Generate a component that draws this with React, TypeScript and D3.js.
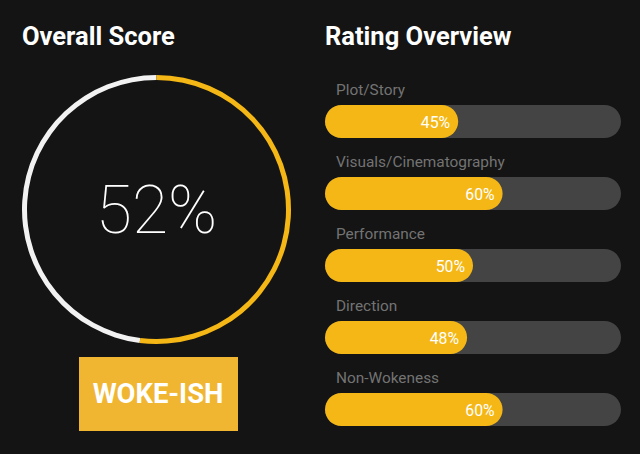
import React from "react";
import * as d3 from "d3";

const categories = ["Plot/Story", "Visuals/Cinematography", "Performance", "Direction", "Non-Wokeness"];
const ratings = [45, 60, 50, 48, 60];
const overallScore = 52;
const verdict = "WOKE-ISH";

const W = 640, H = 454;
const YELLOW = "#f5b715";
const FONT = "Roboto, sans-serif";

export default function App() {
  const x = d3.scaleLinear().domain([0, 100]).range([325, 621]);
  const band = d3.scaleBand<string>().domain(categories).range([105, 426]).paddingInner(39 / 72).paddingOuter(0).align(0);
  const bh = band.bandwidth();
  const cx = 156.5, cy = 209.5, rOuter = 134.5, rInner = 129.5;
  const angle = d3.scaleLinear().domain([0, 100]).range([0, 2 * Math.PI]);
  const arc = d3.arc();
  const scoreArc = arc({ innerRadius: rInner, outerRadius: rOuter, startAngle: 0, endAngle: angle(overallScore) }) as string;
  const restArc = arc({ innerRadius: rInner, outerRadius: rOuter, startAngle: angle(overallScore), endAngle: 2 * Math.PI }) as string;
  return (
    <svg width={W} height={H} viewBox={`0 0 ${W} ${H}`} style={{ position: "fixed", left: 0, top: 0, display: "block" }}>
      <rect width={W} height={H} fill="#141414" />
      <text x={22} y={45} fontFamily={FONT} fontWeight={700} fontSize={25.5} fill="#fff">Overall Score</text>
      <text x={325} y={45} fontFamily={FONT} fontWeight={700} fontSize={25.5} fill="#fff">Rating Overview</text>
      <g transform={`translate(${cx},${cy})`}>
        <path d={restArc} fill="#f2f2f2" />
        <path d={scoreArc} fill={YELLOW} />
      </g>
      <text x={cx} y={233} textAnchor="middle" fontFamily={FONT} fontWeight={100} fontSize={66} fill="#fff">{overallScore}%</text>
      <rect x={79} y={357} width={159} height={74} fill="#f1b631" />
      <text x={158} y={403} textAnchor="middle" fontFamily={FONT} fontWeight={700} fontSize={27.4} fill="#fff">{verdict}</text>
      {categories.map((c, i) => {
        const y = band(c) as number;
        const xe = x(ratings[i]);
        return (
          <g key={c}>
            <text x={336} y={y - 10} fontFamily={FONT} fontSize={15.4} fill="#737373">{c}</text>
            <rect x={x(0)} y={y} width={x(100) - x(0)} height={bh} rx={bh / 2} fill="#444444" />
            <rect x={x(0)} y={y} width={xe - x(0)} height={bh} rx={bh / 2} fill={YELLOW} />
            <text x={xe - 8} y={y + 22.5} textAnchor="end" fontFamily={FONT} fontWeight={400} fontSize={15.8} fill="#fff">{ratings[i]}%</text>
          </g>
        );
      })}
    </svg>
  );
}
